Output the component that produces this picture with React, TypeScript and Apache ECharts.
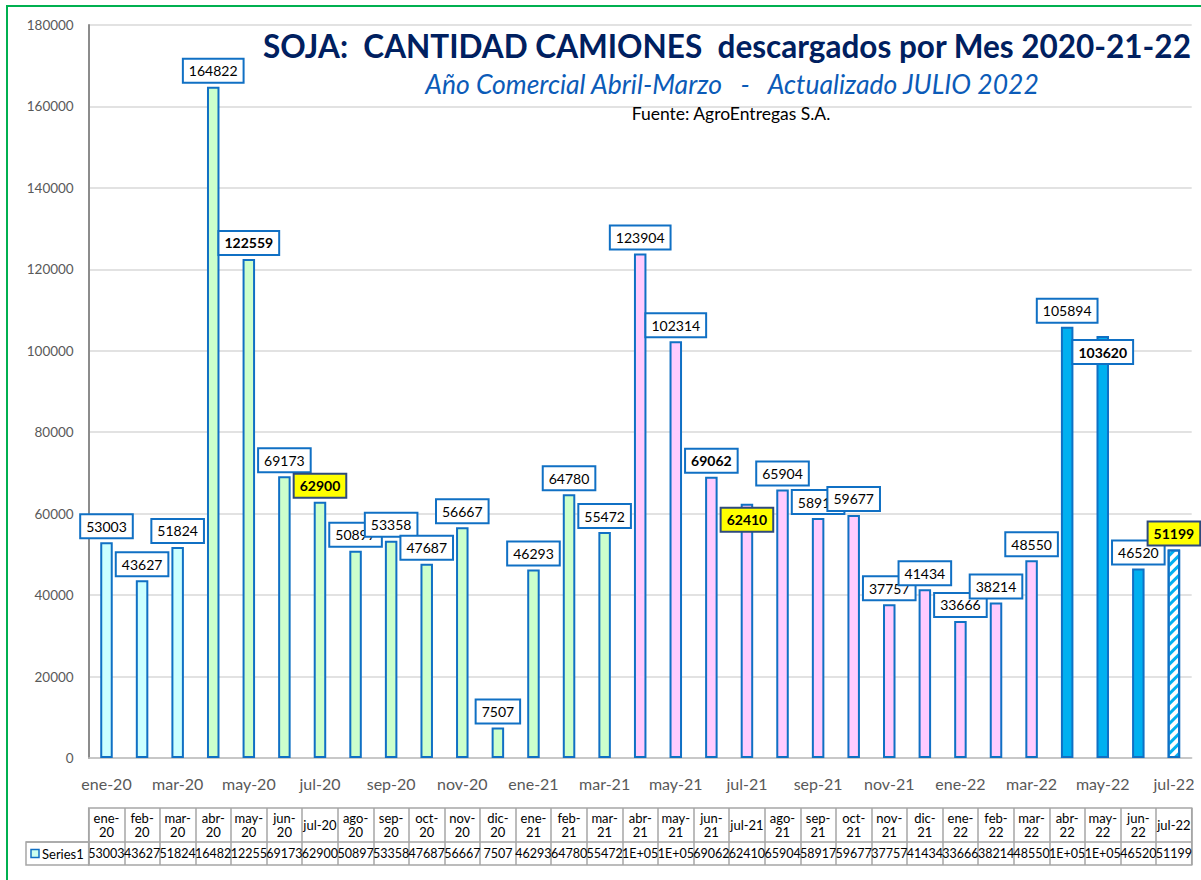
import React, { useEffect, useRef } from 'react';
import * as echarts from 'echarts';

// ---------- data ----------
const categories = [
  'ene-20', 'feb-20', 'mar-20', 'abr-20', 'may-20', 'jun-20', 'jul-20', 'ago-20', 'sep-20', 'oct-20', 'nov-20', 'dic-20',
  'ene-21', 'feb-21', 'mar-21', 'abr-21', 'may-21', 'jun-21', 'jul-21', 'ago-21', 'sep-21', 'oct-21', 'nov-21', 'dic-21',
  'ene-22', 'feb-22', 'mar-22', 'abr-22', 'may-22', 'jun-22', 'jul-22',
];
const camiones = [
  53003, 43627, 51824, 164822, 122559, 69173, 62900, 50897, 53358, 47687, 56667, 7507,
  46293, 64780, 55472, 123904, 102314, 69062, 62410, 65904, 58917, 59677, 37757, 41434,
  33666, 38214, 48550, 105894, 103620, 46520, 51199,
];
// texts as shown in the data table under the chart
const tableTexts = [
  '53003', '43627', '51824', '16482', '12255', '69173', '62900', '50897', '53358', '47687', '56667', '7507',
  '46293', '64780', '55472', '1E+05', '1E+05', '69062', '62410', '65904', '58917', '59677', '37757', '41434',
  '33666', '38214', '48550', '1E+05', '1E+05', '46520', '51199',
];
const yMin = 0;
const yMax = 180000;
const yInterval = 20000;
const monthNames = ['ene', 'feb', 'mar', 'abr', 'may', 'jun', 'jul', 'ago', 'sep', 'oct', 'nov', 'dic'];
const boldMonths = ['may-20', 'jun-21', 'may-22'];
const yellowMonths = ['jul-20', 'jul-21', 'jul-22'];
const insideMonths = ['jul-21', 'may-22'];
const partialMonth = 'jul-22';
const seriesName = 'Series1';

// ---------- styles ----------
const FONT = 'Lato, "Open Sans", sans-serif';
const seasonColors: Record<number, string> = { 19: '#CCFFFF', 20: '#CCFFCC', 21: '#FFCCFF', 22: '#00B0F0' };
const BORDER_BLUE = '#1070C4';

// layout
const GL = 88.7, GT = 25, GW = 1103, GH = 733;
const TT = 808, TM = 842, TB = 865, TLEFT = 26;

function seasonOf(cat: string): number {
  const [m, y] = cat.split('-');
  const mi = monthNames.indexOf(m);
  const yr = parseInt(y, 10);
  return mi >= 3 ? yr : yr - 1;
}

function buildData() {
  return camiones.map((v, i) => {
    const cat = categories[i];
    const isPartial = cat === partialMonth;
    const bold = boldMonths.includes(cat) || yellowMonths.includes(cat);
    const yellow = yellowMonths.includes(cat);
    const inside = insideMonths.includes(cat);
    const item: any = {
      value: v,
      itemStyle: {
        color: isPartial ? '#FFFFFF' : seasonColors[seasonOf(cat)],
        borderColor: BORDER_BLUE,
        borderWidth: 2,
      },
      label: {
        show: true,
        position: inside ? 'insideTop' : 'top',
        distance: 5,
        fontFamily: FONT,
        fontSize: 14,
        lineHeight: 16,
        fontWeight: bold ? 'bold' : 'normal',
        color: '#000000',
        backgroundColor: yellow ? '#FFFF00' : '#FFFFFF',
        borderColor: yellow ? '#2E4A7D' : BORDER_BLUE,
        borderWidth: 2,
        padding: [3, 5, 3, 5],
      },
    };
    if (isPartial) {
      item.itemStyle.decal = {
        symbol: 'rect',
        symbolSize: 1,
        color: '#00B0F0',
        dashArrayX: [1, 0],
        dashArrayY: [3, 4],
        rotation: -Math.PI / 4,
      };
    }
    return item;
  });
}

function buildOption(): any {
  return {
    animation: false,
    backgroundColor: '#FFFFFF',
    textStyle: { fontFamily: FONT },
    grid: [
      { left: GL, top: GT, width: GW, height: GH, containLabel: false },
      {
        left: GL, top: TT, width: GW, height: TB - TT, containLabel: false,
        show: true, borderColor: '#A6A6A6', borderWidth: 1.5, backgroundColor: 'transparent',
      },
    ],
    xAxis: [
      {
        type: 'category',
        gridIndex: 0,
        data: categories,
        axisLine: { show: true, lineStyle: { color: '#BFBFBF', width: 1.5 } },
        axisTick: { show: false },
        axisLabel: { interval: 1, fontFamily: FONT, fontSize: 16, color: '#595959', margin: 17 },
      },
      {
        type: 'category',
        gridIndex: 1,
        position: 'top',
        data: categories,
        axisLine: { show: false },
        axisTick: { show: false },
        splitLine: { show: true, interval: 0, lineStyle: { color: '#A6A6A6', width: 1.5 } },
        axisLabel: {
          inside: true,
          interval: 0,
          margin: (TM - TT) / 2,
          verticalAlign: 'middle',
          fontFamily: FONT,
          fontSize: 13,
          lineHeight: 14,
          color: '#000000',
          formatter: (v: string) => (v.startsWith('jul') ? v : v.replace('-', '-\n')),
        },
      },
      {
        type: 'category',
        gridIndex: 1,
        position: 'bottom',
        data: categories,
        axisLine: { show: false },
        axisTick: { show: false },
        splitLine: { show: false },
        axisLabel: {
          inside: true,
          interval: 0,
          margin: (TB - TM) / 2,
          verticalAlign: 'middle',
          fontFamily: FONT,
          fontSize: 12.5,
          color: '#000000',
          formatter: (_v: string, idx: number) => tableTexts[idx],
        },
      },
    ],
    yAxis: [
      {
        type: 'value',
        gridIndex: 0,
        min: yMin,
        max: yMax,
        interval: yInterval,
        axisLine: { show: true, lineStyle: { color: '#8C8C8C', width: 2 } },
        axisTick: { show: false },
        splitLine: { show: true, lineStyle: { color: '#D9D9D9', width: 1.5 } },
        axisLabel: {
          fontFamily: FONT, fontSize: 13.5, color: '#595959', margin: 15,
          formatter: (v: number) => String(v),
        },
      },
      { type: 'value', gridIndex: 1, min: 0, max: 1, show: false },
    ],
    series: [
      {
        name: seriesName,
        type: 'bar',
        xAxisIndex: 0,
        yAxisIndex: 0,
        barWidth: 12.5,
        data: buildData(),
      },
    ],
    graphic: [
      {
        type: 'rect', silent: true, z: 100,
        shape: { x: 7, y: 6, width: 1220, height: 900 },
        style: { fill: 'none', stroke: '#00B050', lineWidth: 2 },
      },
      {
        type: 'text', z: 100, x: 727, y: 46,
        style: {
          text: 'SOJA:  CANTIDAD CAMIONES  descargados por Mes 2020-21-22',
          fontFamily: FONT, fontSize: 31.5, fontWeight: 'bold', fill: '#002060',
          textAlign: 'center', textVerticalAlign: 'middle',
        },
      },
      {
        type: 'text', z: 100, x: 732, y: 84,
        style: {
          text: 'Año Comercial Abril-Marzo   -   Actualizado JULIO 2022',
          fontFamily: FONT, fontSize: 26.5, fontStyle: 'italic', fill: '#0B5BB8',
          textAlign: 'center', textVerticalAlign: 'middle',
        },
      },
      {
        type: 'text', z: 100, x: 731, y: 113,
        style: {
          text: 'Fuente: AgroEntregas S.A.',
          fontFamily: FONT, fontSize: 17.5, fill: '#000000',
          textAlign: 'center', textVerticalAlign: 'middle',
        },
      },
      {
        type: 'line', silent: true, z: 100,
        shape: { x1: TLEFT, y1: TM, x2: GL + GW, y2: TM },
        style: { stroke: '#A6A6A6', lineWidth: 1.5 },
      },
      {
        type: 'rect', silent: true, z: 100,
        shape: { x: TLEFT, y: TM, width: GL - TLEFT, height: TB - TM },
        style: { fill: 'none', stroke: '#A6A6A6', lineWidth: 1.5 },
      },
      {
        type: 'rect', silent: true, z: 100,
        shape: { x: 31, y: 849.5, width: 8, height: 8 },
        style: { fill: '#CCFFEE', stroke: BORDER_BLUE, lineWidth: 1.5 },
      },
      {
        type: 'text', z: 100, x: 42, y: 854,
        style: {
          text: seriesName, fontFamily: FONT, fontSize: 13, fill: '#000000',
          textAlign: 'left', textVerticalAlign: 'middle',
        },
      },
    ],
  };
}

export default function App() {
  const ref = useRef<HTMLDivElement>(null);
  useEffect(() => {
    document.body.style.margin = '0';
    if (!ref.current) return;
    const chart = echarts.init(ref.current, null, { renderer: 'svg' });
    chart.setOption(buildOption());
    return () => chart.dispose();
  }, []);
  return <div ref={ref} style={{ width: 1201, height: 880 }} />;
}
